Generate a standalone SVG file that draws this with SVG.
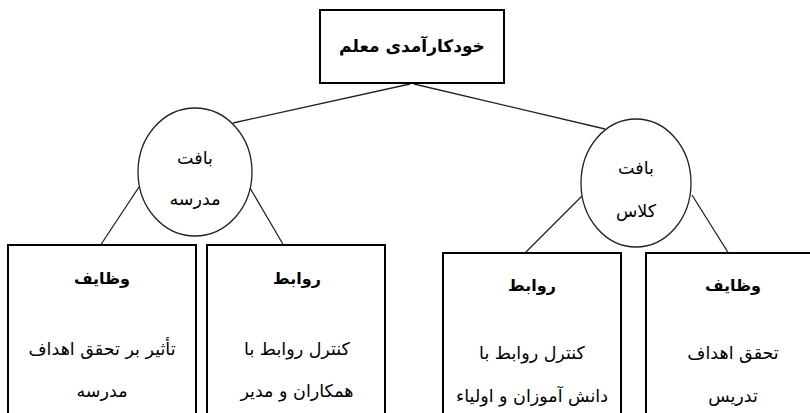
<svg xmlns="http://www.w3.org/2000/svg" width="810" height="413" viewBox="0 0 810 413">
<style>
.box{fill:#fff;stroke:#000;stroke-width:2}
.ell{fill:#fff;stroke:#222;stroke-width:1.3}
.ln{stroke:#222;stroke-width:1.3;fill:none}
text{font-family:"DejaVu Sans","Noto Sans",sans-serif;text-anchor:middle;fill:#000;font-size:17.5px}
.b{font-weight:bold;font-size:16px}
.t{font-weight:bold;font-size:17px}
</style>
<rect width="810" height="413" fill="#fff"/>
<g id="connectors">
<line class="ln" x1="410" y1="84" x2="233" y2="123"/>
<line class="ln" x1="414" y1="84" x2="605" y2="129"/>
<line class="ln" x1="139" y1="187" x2="100" y2="246"/>
<line class="ln" x1="250" y1="188" x2="284" y2="246"/>
<line class="ln" x1="582" y1="196" x2="524" y2="254"/>
<line class="ln" x1="692" y1="195" x2="729" y2="254"/>
</g>
<g id="root">
<rect class="box" x="320" y="10" width="184" height="73"/>
<text class="t" x="412" y="52">خودکارآمدی معلم</text>
</g>
<g id="school">
<ellipse class="ell" cx="195" cy="172" rx="57" ry="64"/>
<text x="195" y="164">بافت</text>
<text x="195" y="205">مدرسه</text>
</g>
<g id="class">
<ellipse class="ell" cx="636" cy="183" rx="55" ry="64"/>
<text x="636" y="174">بافت</text>
<text x="636" y="217">کلاس</text>
</g>
<g id="school-duties">
<rect class="box" x="8" y="245" width="188" height="180"/>
<text class="b" x="102" y="284">وظایف</text>
<text x="102" y="355">تأثیر بر تحقق اهداف</text>
<text x="102" y="397">مدرسه</text>
</g>
<g id="school-relations">
<rect class="box" x="207" y="245" width="178" height="180"/>
<text class="b" x="297" y="284">روابط</text>
<text x="297" y="355">کنترل روابط با</text>
<text x="297" y="397">همکاران و مدیر</text>
</g>
<g id="class-relations">
<rect class="box" x="443" y="253" width="178" height="180"/>
<text class="b" x="532" y="291">روابط</text>
<text x="532" y="359">کنترل روابط با</text>
<text x="532" y="402">دانش آموزان و اولیاء</text>
</g>
<g id="class-duties">
<rect class="box" x="646" y="253" width="180" height="180"/>
<text class="b" x="733" y="291">وظایف</text>
<text x="733" y="359">تحقق اهداف</text>
<text x="733" y="402">تدریس</text>
</g>
</svg>
